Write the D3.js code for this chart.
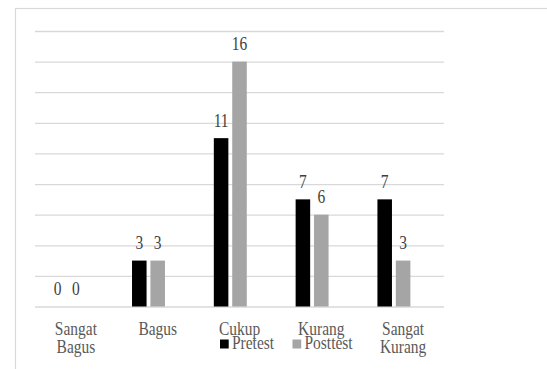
<!DOCTYPE html>
<html><head><meta charset="utf-8">
<script src="https://cdn.jsdelivr.net/npm/d3@7"></script>
<style>html,body{margin:0;padding:0;background:#fff;overflow:hidden}</style>
</head><body>
<script>
const categories = [["Sangat","Bagus"],["Bagus"],["Cukup"],["Kurang"],["Sangat","Kurang"]];
const seriesNames = ["Pretest","Posttest"];
const pretest = [0,3,11,7,7];
const posttest = [0,3,16,6,3];
const yTicks = [0,2,4,6,8,10,12,14,16,18];
const colors = {Pretest:"#000000", Posttest:"#a5a5a5"};

const W = 547, H = 369, SX = 0.86; // horizontal squeeze of the original text
const font = "Liberation Serif";
const svg = d3.select("body").append("svg").attr("width", W).attr("height", H);

// frame
svg.append("rect").attr("x", 15.5).attr("y", 8.5).attr("width", W).attr("height", H)
  .attr("fill", "none").attr("stroke", "#d9d9d9").attr("stroke-width", 1.2);

const left = 35, right = 444;
const keys = categories.map((c,i)=>i);
const x0 = d3.scaleBand().domain(keys).range([left, right]).paddingInner(0.325).paddingOuter(0.1625);
const x1 = d3.scaleBand().domain([...seriesNames, "_spacer"]).range([0, x0.bandwidth()]).paddingInner(0.21).paddingOuter(0.105);
const y = d3.scaleLinear().domain([0,18]).range([306.5, 31]);

// gridlines
const gy = d3.axisLeft(y).tickValues(yTicks).tickSize(-(right-left)).tickFormat("");
const g = svg.append("g").attr("transform", `translate(${left},0)`).call(gy);
g.select(".domain").remove();
g.selectAll(".tick line").attr("stroke", "#d9d9d9").attr("stroke-width", 1.3);

function squeezed(sel, x, yy) {
  return sel.attr("transform", d => `translate(${x(d)},${yy(d)}) scale(${SX},1)`)
    .style("font-family", font);
}

const data = keys.map(i => ({i, vals: [{k:"Pretest", v: pretest[i]}, {k:"Posttest", v: posttest[i]}]}));
const grp = svg.selectAll(".grp").data(data).join("g").attr("transform", d => `translate(${x0(d.i)},0)`);
grp.selectAll("rect").data(d => d.vals).join("rect")
  .attr("x", d => x1(d.k)).attr("width", x1.bandwidth())
  .attr("y", d => y(d.v)).attr("height", d => y(0) - y(d.v))
  .attr("fill", d => colors[d.k]);
grp.selectAll("text").data(d => d.vals).join("text")
  .call(squeezed, d => x1(d.k) + x1.bandwidth()/2, d => y(d.v) - 11.3)
  .attr("text-anchor", "middle")
  .attr("font-size", 18).attr("fill", "#404040")
  .text(d => d.v);

// category labels
const cx = i => x0(i) + x1("Posttest") + x1.bandwidth()/2;
const lab = svg.selectAll(".cat").data(keys).join("text")
  .attr("class","cat")
  .call(squeezed, cx, () => 335)
  .attr("text-anchor", "middle")
  .attr("font-size", 18).attr("fill", "#595959");
lab.selectAll("tspan").data(i => categories[i].map((t,j)=>({t,j,i}))).join("tspan")
  .attr("x", 0)
  .attr("dy", d => d.j === 0 ? 0 : 18.5)
  .text(d => d.t);

// legend
const legX = [220, 292.5];
const leg = svg.selectAll(".leg").data(seriesNames).join("g").attr("class","leg")
  .attr("transform", (d,i) => `translate(${legX[i]},0)`);
leg.append("rect").attr("x", 0).attr("y", 339.5).attr("width", 8.7).attr("height", 9)
  .attr("fill", d => colors[d]);
leg.append("text")
  .call(squeezed, () => 12, () => 349)
  .attr("font-size", 18).attr("fill", "#595959")
  .text(d => d);
</script>
</body></html>
